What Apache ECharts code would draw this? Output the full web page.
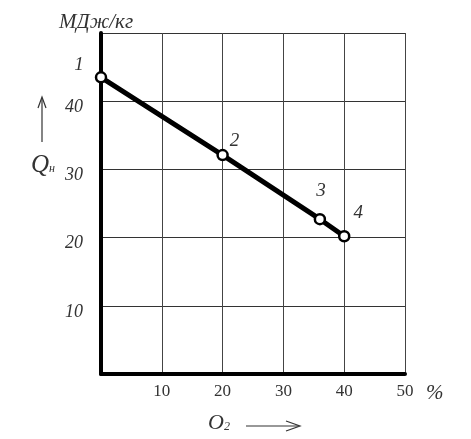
<!DOCTYPE html>
<html>
<head>
<meta charset="utf-8">
<script src="https://cdn.jsdelivr.net/npm/echarts@6/dist/echarts.min.js"></script>
<style>
  html, body { margin: 0; padding: 0; background: #fff; }
  #chart { width: 471px; height: 439px; }
</style>
</head>
<body>
<div id="chart"></div>
<script>
// O2, % and Qн, МДж/кг
var o2 = [0, 20, 36, 40];
var qn = [43.5, 32.1, 22.7, 20.2];
var pointNames = ['1', '2', '3', '4'];
var xTicks = [10, 20, 30, 40, 50];
var yTicks = [10, 20, 30, 40];

var serif = '"Liberation Serif", "DejaVu Serif", serif';
// where each point number sits relative to its point
var labelOffsets = [[-22, -12], [12, -14], [1, -28], [14, -23]];

var points = o2.map(function (x, i) {
  return {
    value: [x, qn[i]],
    label: { formatter: pointNames[i], offset: labelOffsets[i] }
  };
});

var chart = echarts.init(document.getElementById('chart'));
chart.setOption({
  animation: false,
  grid: { left: 101, right: 66, top: 33, bottom: 65 },
  xAxis: {
    type: 'value', min: 0, max: 50, interval: 10,
    name: '%', nameLocation: 'end', nameGap: 21,
    nameTextStyle: { fontFamily: serif, fontStyle: 'italic', fontSize: 21, color: '#333', verticalAlign: 'top', padding: [9, 0, 0, 0] },
    axisLine: { lineStyle: { color: '#000', width: 4 } },
    axisTick: { show: false },
    axisLabel: {
      margin: 9, fontFamily: serif, fontSize: 17, color: '#333',
      formatter: function (v) { return xTicks.indexOf(v) >= 0 ? String(v) : ''; }
    },
    splitLine: { show: true, lineStyle: { color: '#444', width: 1 } }
  },
  yAxis: {
    type: 'value', min: 0, max: 50, interval: 10,
    name: 'МДж/кг', nameLocation: 'end', nameGap: 0,
    nameTextStyle: { fontFamily: serif, fontStyle: 'italic', fontSize: 21, color: '#333', align: 'center', padding: [0, 10, 0, 0] },
    axisLine: { lineStyle: { color: '#000', width: 4 } },
    axisTick: { show: false },
    axisLabel: {
      margin: 18, fontFamily: serif, fontStyle: 'italic', fontSize: 18, color: '#333',
      verticalAlign: 'top', lineHeight: 12,
      formatter: function (v) { return yTicks.indexOf(v) >= 0 ? String(v) : ''; }
    },
    splitLine: { show: true, lineStyle: { color: '#333', width: 1 } }
  },
  series: [{
    type: 'line',
    data: points,
    lineStyle: { color: '#000', width: 5 },
    symbol: 'circle', symbolSize: 10,
    itemStyle: { color: '#fff', borderColor: '#000', borderWidth: 2.5 },
    label: {
      show: true, position: 'inside',
      fontFamily: serif, fontStyle: 'italic', fontSize: 19, color: '#333'
    },
    z: 5
  }],
  graphic: [
    // Qн with arrow pointing up
    { type: 'line', shape: { x1: 42, y1: 142, x2: 42, y2: 98 }, style: { stroke: '#333', lineWidth: 1.2 } },
    { type: 'polyline', shape: { points: [[38, 108], [42, 97], [46, 108]] }, style: { stroke: '#333', lineWidth: 1.2, fill: null } },
    {
      type: 'text', left: 31, top: 153,
      style: {
        text: '{q|Q}{s|н}',
        rich: {
          q: { fontFamily: serif, fontStyle: 'italic', fontSize: 25, fill: '#333' },
          s: { fontFamily: serif, fontStyle: 'italic', fontSize: 12, fill: '#333', padding: [6, 0, 0, 0] }
        }
      }
    },
    // O2 with arrow pointing right
    {
      type: 'text', left: 208, top: 412,
      style: {
        text: '{o|O}{s|2}',
        rich: {
          o: { fontFamily: serif, fontStyle: 'italic', fontSize: 22, fill: '#333' },
          s: { fontFamily: serif, fontStyle: 'italic', fontSize: 12, fill: '#333', padding: [7, 0, 0, 0] }
        }
      }
    },
    { type: 'line', shape: { x1: 246, y1: 426, x2: 299, y2: 426 }, style: { stroke: '#333', lineWidth: 1.2 } },
    { type: 'polyline', shape: { points: [[286, 421], [300, 426], [286, 431]] }, style: { stroke: '#333', lineWidth: 1.2, fill: null } }
  ]
});
</script>
</body>
</html>
